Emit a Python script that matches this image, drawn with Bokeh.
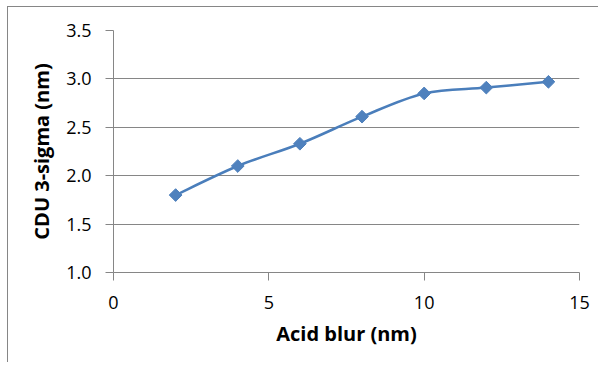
from bokeh.plotting import figure
from bokeh.models import Range1d, FixedTicker, Title, ColumnDataSource, NumeralTickFormatter
from bokeh.embed import file_html
from bokeh.resources import INLINE
import numpy as np

# Data
acid_blur = [2, 4, 6, 8, 10, 12, 14]
cdu_3sigma = [1.80, 2.10, 2.33, 2.61, 2.85, 2.91, 2.97]
x_ticks = [0, 5, 10, 15]
y_ticks = [1.0, 1.5, 2.0, 2.5, 3.0, 3.5]

FONT = "Open Sans"
GRAY = "#868686"
LINE = "#4A7EBB"
MARK = "#4F81BD"

p = figure(width=598, height=362, output_backend="svg", toolbar_location=None,
           x_range=Range1d(0, 15), y_range=Range1d(1.0, 3.5),
           min_border_left=113, min_border_top=30, min_border_right=19, min_border_bottom=90)
p.styles = {"box-shadow": "inset 7px 6px 0 0 white, inset 8px 7px 0 0 #868686",
            "background-color": "white"}
p.outline_line_color = None
p.background_fill_color = "white"
p.border_fill_alpha = 0

# smoothed line (Catmull-Rom -> Bezier control points from the data)
xs = np.array(acid_blur, dtype=float)
ys = np.array(cdu_3sigma, dtype=float)
n = len(xs)
x0, y0, x1, y1, cx0, cy0, cx1, cy1 = [], [], [], [], [], [], [], []
for i in range(n - 1):
    pm = (xs[max(i - 1, 0)], ys[max(i - 1, 0)])
    pa = (xs[i], ys[i])
    pb = (xs[i + 1], ys[i + 1])
    pn = (xs[min(i + 2, n - 1)], ys[min(i + 2, n - 1)])
    x0.append(pa[0]); y0.append(pa[1]); x1.append(pb[0]); y1.append(pb[1])
    cx0.append(pa[0] + (pb[0] - pm[0]) / 6); cy0.append(pa[1] + (pb[1] - pm[1]) / 6)
    cx1.append(pb[0] - (pn[0] - pa[0]) / 6); cy1.append(pb[1] - (pn[1] - pa[1]) / 6)
p.bezier(x0=x0, y0=y0, x1=x1, y1=y1, cx0=cx0, cy0=cy0, cx1=cx1, cy1=cy1,
         line_color=LINE, line_width=2.5)

src = ColumnDataSource(dict(x=acid_blur, y=cdu_3sigma))
p.scatter("x", "y", source=src, marker="square", angle=np.pi / 4, size=9,
          fill_color=MARK, line_color=MARK)

p.xgrid.visible = False
p.ygrid.grid_line_color = GRAY
p.ygrid.grid_line_width = 1

p.xaxis.ticker = FixedTicker(ticks=x_ticks)
p.yaxis.ticker = FixedTicker(ticks=y_ticks)
p.yaxis.formatter = NumeralTickFormatter(format="0.0")
p.xaxis.formatter = NumeralTickFormatter(format="0")
for ax in (p.xaxis, p.yaxis):
    ax.axis_line_color = GRAY
    ax.major_tick_line_color = GRAY
    ax.major_tick_in = 0
    ax.major_tick_out = 8
    ax.minor_tick_line_color = None
    ax.major_label_text_font = FONT
    ax.major_label_text_font_size = "18px"
    ax.major_label_text_color = "black"
p.xaxis.major_label_standoff = 15
p.yaxis.major_label_standoff = 14

p.add_layout(Title(text="Acid blur (nm)", align="center", text_font=FONT, text_color="black",
                   text_font_size="20px", text_font_style="bold", standoff=12), "below")
p.add_layout(Title(text="CDU 3-sigma (nm)", align="center", text_font=FONT, text_color="black",
                   text_font_size="20px", text_font_style="bold", offset=-19, standoff=17), "left")

open("out.html", "w").write(file_html(p, INLINE))
